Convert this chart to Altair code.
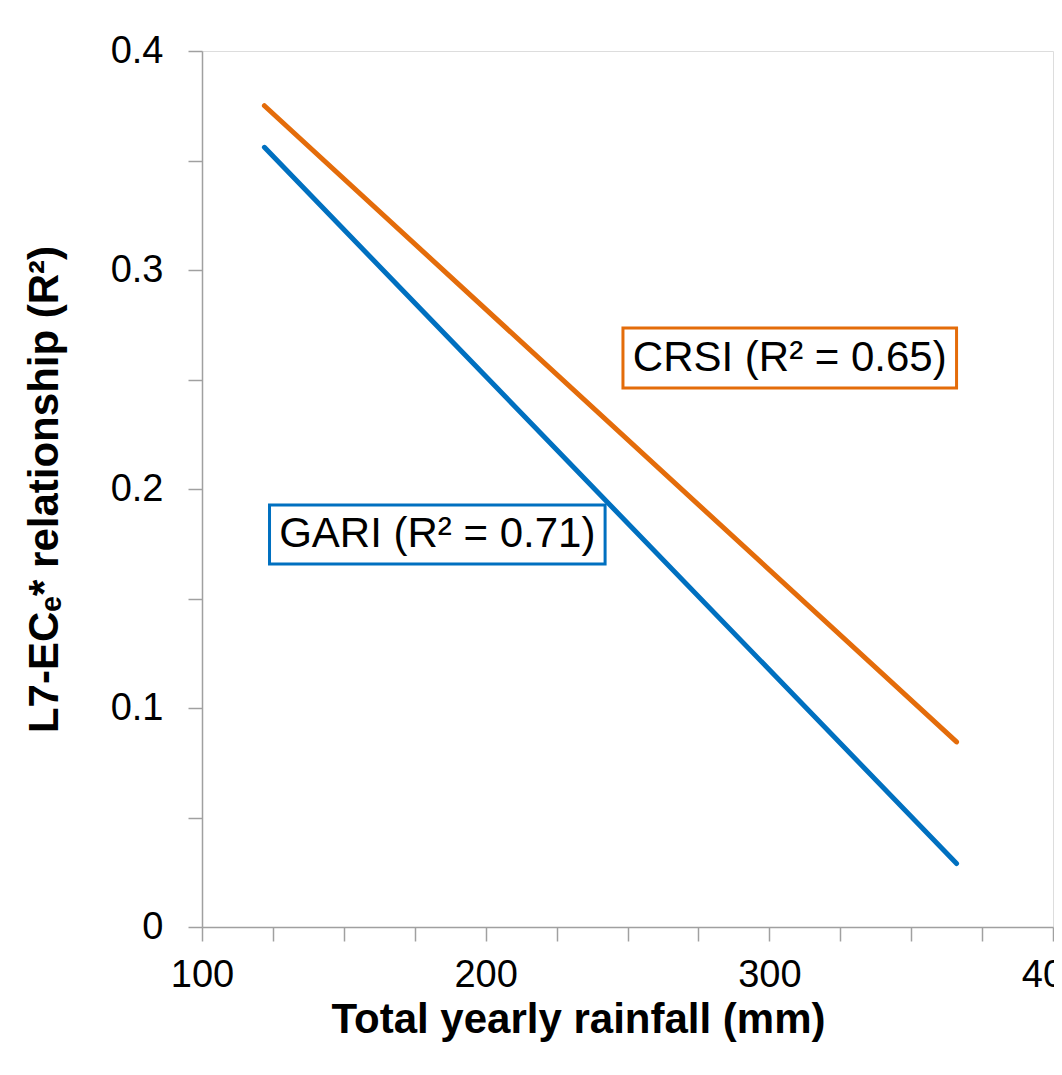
import altair as alt
import pandas as pd

# Data
series = ["GARI", "CRSI"]
x_start = [122, 122]
x_end = [366, 366]
y_start = [0.356, 0.375]
y_end = [0.029, 0.0845]
colors = ["#0070C0", "#E46C0A"]

labels = ["GARI (R² = 0.71)", "CRSI (R² = 0.65)"]
box_x1 = [123.8, 248.4]
box_x2 = [242.1, 366.0]
box_y1 = [0.1658, 0.2461]
box_y2 = [0.1927, 0.2735]

x_ticks = [100, 125, 150, 175, 200, 225, 250, 275, 300, 325, 350, 375, 400]
y_ticks = [0, 0.05, 0.1, 0.15, 0.2, 0.25, 0.3, 0.35, 0.4]

rows = []
for s, xa, xb, ya, yb in zip(series, x_start, x_end, y_start, y_end):
    rows.append({"series": s, "x": xa, "y": ya})
    rows.append({"series": s, "x": xb, "y": yb})
lines_df = pd.DataFrame(rows)

box_df = pd.DataFrame({
    "series": series,
    "label": labels,
    "x1": box_x1, "x2": box_x2, "y1": box_y1, "y2": box_y2,
})
box_df["xc"] = (box_df["x1"] + box_df["x2"]) / 2
box_df["yc"] = (box_df["y1"] + box_df["y2"]) / 2

color_scale = alt.Scale(domain=series, range=colors)
xscale = alt.Scale(domain=[100, 400], nice=False, zero=False)
yscale = alt.Scale(domain=[0, 0.4], nice=False)

axis_common = dict(
    grid=False,
    domainColor="#A0A0A0",
    domainWidth=1.5,
    tickColor="#A0A0A0",
    tickWidth=1.5,
    tickSize=14,
    labelFont="Liberation Sans",
    labelFontSize=38,
    labelColor="black",
    titleFont="Liberation Sans",
    titleFontWeight="bold",
    titleFontSize=42,
    titleColor="black",
)

x_axis = alt.Axis(
    values=x_ticks,
    labelExpr="datum.value % 100 == 0 ? datum.label : ''",
    title="Total yearly rainfall (mm)",
    labelPadding=15,
    titlePadding=5,
    titleX=376,
    labelFlush=False,
    labelOverlap=False,
    **axis_common,
)
y_axis = alt.Axis(
    values=y_ticks,
    labelExpr="round(datum.value * 100) % 10 == 0 ? (datum.value == 0 ? '0' : format(datum.value, '.1f')) : ''",
    title="L7-ECₑ* relationship (R²)",
    labelPadding=25,
    titlePadding=44,
    labelFlush=False,
    labelOverlap=False,
    **axis_common,
)

lines = alt.Chart(lines_df).mark_line(strokeWidth=5, strokeCap="round").encode(
    x=alt.X("x:Q", scale=xscale, axis=x_axis),
    y=alt.Y("y:Q", scale=yscale, axis=y_axis),
    color=alt.Color("series:N", scale=color_scale, legend=None),
    detail="series:N",
)

boxes = alt.Chart(box_df).mark_rect(fill="white", strokeWidth=3).encode(
    x=alt.X("x1:Q", scale=xscale),
    x2="x2:Q",
    y=alt.Y("y1:Q", scale=yscale),
    y2="y2:Q",
    stroke=alt.Stroke("series:N", scale=color_scale, legend=None),
)

texts = alt.Chart(box_df).mark_text(
    font="Liberation Sans", fontSize=42, color="black", align="center", baseline="middle"
).encode(
    x=alt.X("xc:Q", scale=xscale),
    y=alt.Y("yc:Q", scale=yscale),
    text="label:N",
)

chart = alt.layer(lines, boxes, texts).properties(
    width=851,
    height=876,
    autosize=alt.AutoSizeParams(type="none"),
    padding={"left": 194, "top": 43, "right": 1, "bottom": 120},
).configure_view(
    stroke="#A0A0A0",
    strokeWidth=1.5,
).configure(background="white")

chart.save("out.html", embed_options={"renderer": "svg", "actions": False})
